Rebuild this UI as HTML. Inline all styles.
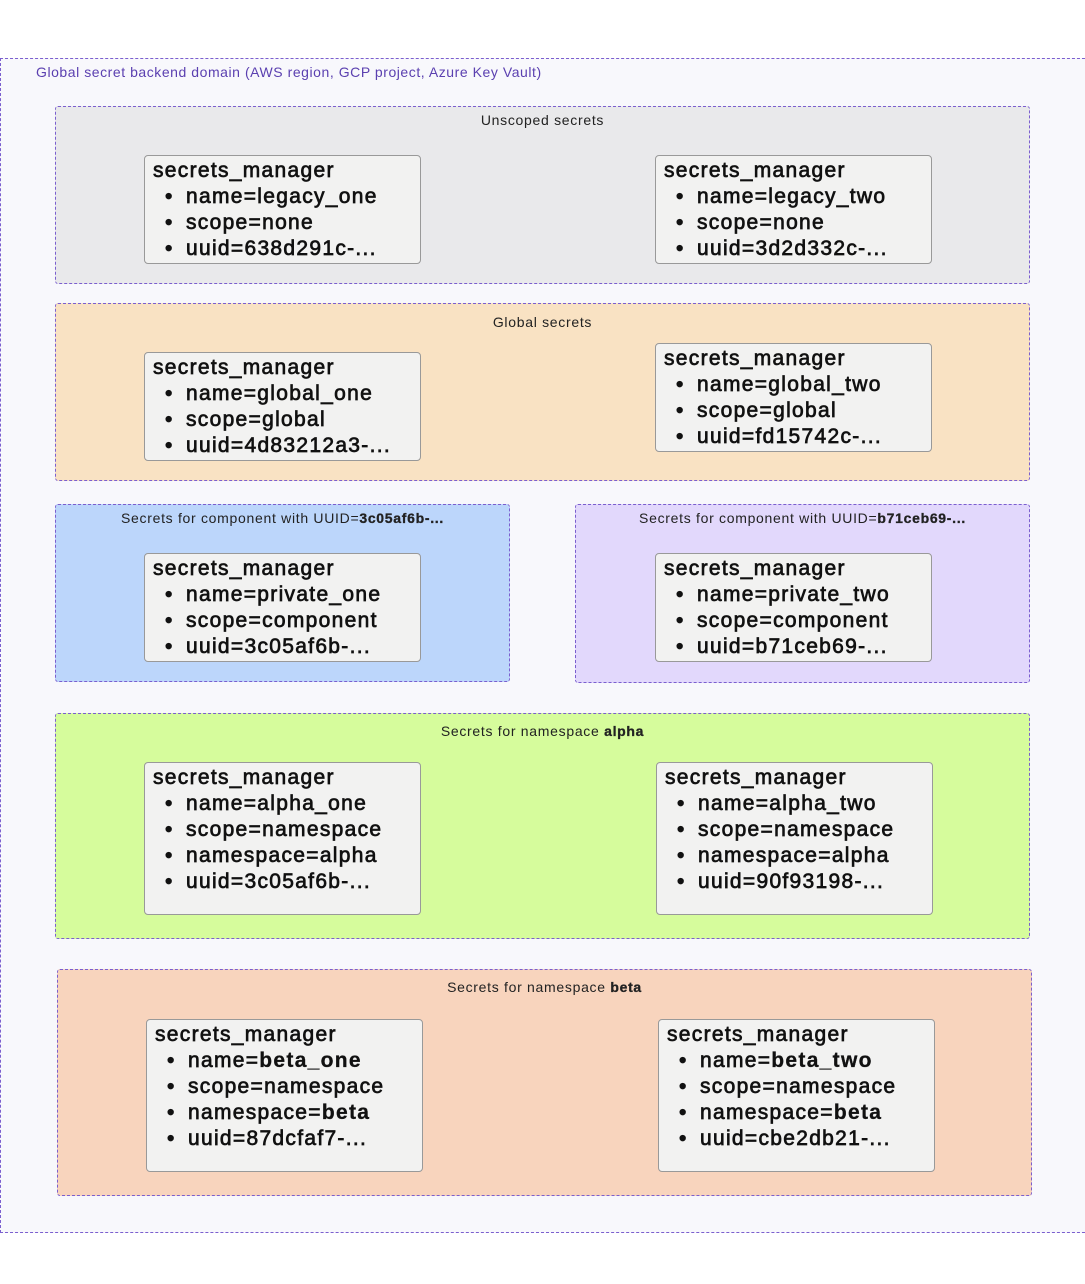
<!DOCTYPE html>
<html><head><meta charset="utf-8"><style>
body{margin:0;width:1085px;height:1284px;background:#fff;position:relative;overflow:hidden;font-family:"Liberation Sans",sans-serif;}
.outer{position:absolute;left:0;top:58px;width:1100px;height:1175px;border:1px dashed #7b5fcf;background:#f8f8fc;box-sizing:border-box;}
.olab{position:absolute;left:36px;top:64px;font-size:14px;color:#5b40b0;letter-spacing:0.55px;}
.g{position:absolute;border:1px dashed #7b5fcf;border-radius:3px;box-sizing:border-box;}
.gl{position:absolute;left:0;right:0;text-align:center;font-size:14px;color:#222;top:5px;letter-spacing:0.7px;}
.n{position:absolute;width:277px;background:#f2f2f1;border:1px solid #999;border-radius:4px;box-sizing:border-box;padding:2px 0 0 8px;font-size:21px;line-height:26px;color:#111;-webkit-text-stroke:0.7px #111;letter-spacing:1.3px;white-space:nowrap;}
.n div{padding-left:12px;}
.n div:before{content:"•";display:inline-block;width:21px;}
b{-webkit-text-stroke:0.3px;}
</style></head><body>
<div class="outer"></div>
<div class="olab">Global secret backend domain (AWS region, GCP project, Azure Key Vault)</div>

<div class="g" style="left:55px;top:106px;width:975px;height:178px;background:#e9e9eb"><div class="gl">Unscoped secrets</div></div>
<div class="n" style="left:144px;top:155px;height:109px">secrets_manager<div>name=legacy_one</div><div>scope=none</div><div>uuid=638d291c-...</div></div>
<div class="n" style="left:655px;top:155px;height:109px">secrets_manager<div>name=legacy_two</div><div>scope=none</div><div>uuid=3d2d332c-...</div></div>

<div class="g" style="left:55px;top:303px;width:975px;height:178px;background:#f9e2c3"><div class="gl" style="top:10px">Global secrets</div></div>
<div class="n" style="left:144px;top:352px;height:109px">secrets_manager<div>name=global_one</div><div>scope=global</div><div>uuid=4d83212a3-...</div></div>
<div class="n" style="left:655px;top:343px;height:109px">secrets_manager<div>name=global_two</div><div>scope=global</div><div>uuid=fd15742c-...</div></div>

<div class="g" style="left:55px;top:504px;width:455px;height:178px;background:#bcd6fb"><div class="gl">Secrets for component with UUID=<b>3c05af6b-...</b></div></div>
<div class="n" style="left:144px;top:553px;height:109px">secrets_manager<div>name=private_one</div><div>scope=component</div><div>uuid=3c05af6b-...</div></div>
<div class="g" style="left:575px;top:504px;width:455px;height:179px;background:#e2d8fc"><div class="gl">Secrets for component with UUID=<b>b71ceb69-...</b></div></div>
<div class="n" style="left:655px;top:553px;height:109px">secrets_manager<div>name=private_two</div><div>scope=component</div><div>uuid=b71ceb69-...</div></div>

<div class="g" style="left:55px;top:713px;width:975px;height:226px;background:#d6fc9c"><div class="gl" style="top:9px">Secrets for namespace <b>alpha</b></div></div>
<div class="n" style="left:144px;top:762px;height:153px">secrets_manager<div>name=alpha_one</div><div>scope=namespace</div><div>namespace=alpha</div><div>uuid=3c05af6b-...</div></div>
<div class="n" style="left:656px;top:762px;height:153px">secrets_manager<div>name=alpha_two</div><div>scope=namespace</div><div>namespace=alpha</div><div>uuid=90f93198-...</div></div>

<div class="g" style="left:57px;top:969px;width:975px;height:227px;background:#f8d4bd"><div class="gl" style="top:9px">Secrets for namespace <b>beta</b></div></div>
<div class="n" style="left:146px;top:1019px;height:153px">secrets_manager<div>name=<b>beta_one</b></div><div>scope=namespace</div><div>namespace=<b>beta</b></div><div>uuid=87dcfaf7-...</div></div>
<div class="n" style="left:658px;top:1019px;height:153px">secrets_manager<div>name=<b>beta_two</b></div><div>scope=namespace</div><div>namespace=<b>beta</b></div><div>uuid=cbe2db21-...</div></div>
</body></html>
